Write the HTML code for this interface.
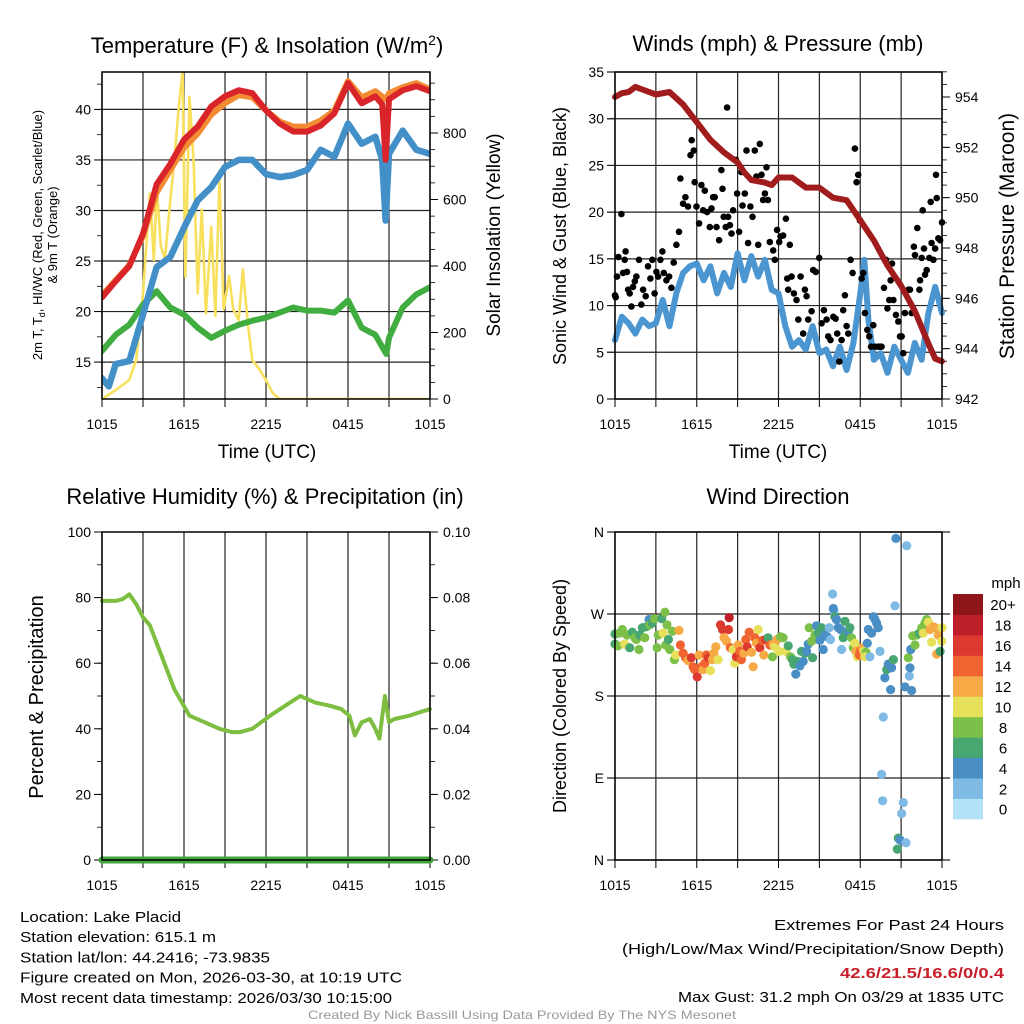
<!DOCTYPE html>
<html><head><meta charset="utf-8"><style>
html,body{margin:0;padding:0;background:#fff;}
svg{display:block;font-family:"Liberation Sans",sans-serif;}
</style></head><body>
<svg id="root" width="1024" height="1024" viewBox="0 0 1024 1024" xmlns="http://www.w3.org/2000/svg"></svg>
<script>
// ---------- Panel 1: temperature & insolation ----------
const tempRedHours = [0,1,2,3,4,5,6,7,8,9,10,11,12,13,14,15,16,17,18,19,20,20.5,20.75,21,22,23,24];
const tempRedVals  = [21.4,23.0,24.5,27.7,32.6,34.6,37.0,38.3,40.3,41.3,41.9,41.6,39.9,38.6,37.8,37.8,38.4,39.6,42.6,40.6,41.3,40.5,35.0,41.0,41.9,42.3,41.8];
const tempOrgHours = [0,1,2,3,4,5,6,7,8,9,10,11,12,13,14,15,16,17,18,19,20,20.75,21,22,23,24];
const tempOrgVals  = [21.6,23.1,24.6,27.5,31.8,34.0,36.2,37.6,39.5,40.6,41.4,41.2,39.9,38.8,38.3,38.3,38.9,39.9,42.8,41.2,41.8,41.0,41.6,42.2,42.6,42.0];
const tempBlueHours = [0,0.5,1,2,3,4,5,6,7,8,9,10,11,12,13,14,15,16,17,18,19,20,20.5,20.75,21,22,23,24];
const tempBlueVals  = [13.4,12.6,14.8,15.1,19.7,24.4,25.4,28.3,31.0,32.3,34.3,35.0,35.0,33.6,33.3,33.5,34.0,36.0,35.3,38.6,36.6,37.3,35.0,29.0,35.6,37.9,36.0,35.6];
const tempGreenHours = [0,1,2,3,4,5,6,7,8,9,10,11,12,13,14,15,16,17,18,19,20,20.8,21,22,23,24];
const tempGreenVals  = [16.1,17.7,18.7,20.7,22.0,20.4,19.7,18.4,17.4,18.1,18.7,19.1,19.4,19.9,20.4,20.1,20.1,19.9,21.1,18.4,17.7,15.8,17.4,20.4,21.7,22.4];
const solarHours = [0,1,2,2.5,3,3.5,3.8,4,4.3,4.6,5,5.3,5.6,5.9,6.1,6.4,6.7,7,7.3,7.6,8,8.3,8.6,8.9,9.3,9.6,10,10.3,10.7,11,11.5,12,12.5,13,24];
const solarVals  = [0,27,57,117,318,618,418,638,460,420,598,720,869,989,368,909,718,318,570,257,518,250,668,270,370,270,237,390,217,117,90,57,17,0,0];
const p1LeftTicks = [15,20,25,30,35,40];
const p1RightTicks = [0,200,400,600,800];
// ---------- Panel 2: winds & pressure ----------
const windHours = [0,0.5,1,1.5,2,2.5,3,3.5,4,4.5,5,5.5,6,6.5,7,7.5,8,8.5,9,9.5,10,10.5,11,11.5,12,12.5,13,13.5,14,14.5,15,15.5,16,16.5,17,17.5,18,18.3,18.6,19,19.5,20,20.5,21,21.5,22,22.5,23,23.5,24];
const windVals  = [6.3,8.8,8.1,7.0,8.5,7.8,8.1,10.6,7.8,11.3,13.5,14.2,14.5,12.7,14.2,11.3,13.5,12.0,15.6,12.7,15.3,13.1,14.9,11.7,11.3,7.8,5.6,6.3,5.3,7.8,4.9,5.3,3.5,5.6,3.1,6.0,11.3,14.9,8.5,4.2,4.9,2.8,5.6,4.2,2.8,6.0,4.2,9.2,12.0,9.2];
const gustHours = [0,0.05,0.15,0.25,0.47,0.59,0.71,0.78,0.88,0.96,1.08,1.2,1.32,1.45,1.57,1.76,1.93,2.06,2.25,2.42,2.6,2.74,2.91,3.04,3.16,3.33,3.48,3.58,3.77,3.97,4.14,4.31,4.51,4.7,4.8,5.0,5.17,5.36,5.54,5.63,5.78,5.85,5.98,6.17,6.34,6.47,6.59,6.76,6.96,7.08,7.2,7.32,7.45,7.64,7.81,7.89,7.98,8.13,8.23,8.3,8.43,8.55,8.67,8.87,8.96,9.11,9.28,9.36,9.53,9.65,9.77,9.94,10.09,10.26,10.38,10.51,10.63,10.75,10.87,11.0,11.12,11.22,11.36,11.61,11.73,11.9,12.05,12.15,12.34,12.54,12.64,12.71,12.83,12.96,13.13,13.32,13.45,13.62,13.81,13.94,14.06,14.18,14.43,14.55,14.74,14.99,15.16,15.33,15.53,15.65,15.82,16.02,16.19,16.31,16.46,16.63,16.75,16.87,17.0,17.12,17.29,17.44,17.61,17.73,17.85,17.98,18.1,18.22,18.34,18.52,18.66,18.79,18.96,19.08,19.32,19.45,19.57,19.74,19.89,19.99,20.13,20.23,20.33,20.43,20.62,20.79,20.92,21.04,21.16,21.28,21.53,21.65,21.77,21.94,22.02,22.19,22.34,22.39,22.51,22.58,22.68,22.75,22.88,23.07,23.17,23.24,23.37,23.49,23.56,23.61,23.73,23.86,24.0];
const gustVals  = [11.1,10.9,13.1,15.2,19.8,13.5,14.9,15.8,13.6,11.7,11.3,9.9,12.0,12.6,13.1,14.9,10.1,11.7,11.0,14.2,12.9,14.9,11.3,13.6,13.1,14.9,15.8,13.5,12.7,13.1,11.9,14.6,16.5,17.9,23.6,20.9,21.6,20.6,26.1,27.7,26.6,23.2,20.6,18.8,22.9,20.2,22.3,20.0,18.4,20.4,21.6,21.6,18.4,17.0,24.5,22.5,19.5,18.4,31.2,19.5,18.6,17.7,20.2,25.6,22.0,17.9,24.3,20.7,22.0,26.6,16.7,20.6,19.5,26.6,23.8,16.5,27.3,24.0,21.3,22.0,24.8,21.3,16.8,15.9,14.9,18.1,16.8,17.4,17.5,19.3,12.9,11.7,16.5,13.1,11.3,10.6,8.5,13.1,7.0,11.7,11.0,8.5,9.4,13.8,13.6,15.1,8.1,9.5,8.5,6.7,6.3,8.8,8.6,7.0,4.0,6.3,9.5,11.1,7.8,7.0,14.9,13.5,26.8,23.2,24.0,19.1,12.9,13.5,9.2,7.4,6.7,5.6,7.9,5.6,5.6,5.6,5.6,11.9,14.9,9.7,10.6,12.7,14.5,10.6,9.0,8.3,6.7,6.7,4.9,9.2,11.7,11.7,9.2,16.3,15.4,18.3,11.7,12.7,15.1,20.2,16.1,13.3,13.8,15.1,21.1,16.7,14.9,16.1,24.0,21.5,17.2,17.0,18.9];
const presHours = [0,0.5,1,1.5,2,3,4,5,6,7,8,9,9.5,10,11,11.5,12,13,14,15,16,17,18,19,20,21,22,23,23.5,24];
const presVals  = [954.0,954.15,954.2,954.4,954.3,954.1,954.2,953.7,953.0,952.3,951.8,951.4,951.0,950.7,950.6,950.5,950.8,950.8,950.4,950.4,950.0,949.9,949.1,948.3,947.3,946.5,945.5,944.2,943.6,943.5];
const p2LeftTicks = [0,5,10,15,20,25,30,35];
const p2RightTicks = [942,944,946,948,950,952,954];
// ---------- Panel 3: RH & precip ----------
const rhHours = [0,1,1.5,2,2.5,3,3.5,4.2,5.3,6.4,7.5,8.6,9.5,10.1,11,12.3,13.4,14.5,15.6,16.7,17.5,18.1,18.5,19.0,19.6,20.0,20.3,20.7,21.0,21.4,22.5,23.2,24];
const rhVals  = [79,79,79.5,81,78,74,71.6,64,52,44,42,40,39,39,40,44,47,50,48,47,46,44,38,42,43,40,37,50,42,43,44,45,46];
const precipHours = [0,24];
const precipVals  = [0,0];
const p3LeftTicks = [0,20,40,60,80,100];
const p3RightTicks = ["0.00","0.02","0.04","0.06","0.08","0.10"];
// ---------- Panel 4: wind direction ----------
const dirHours = [0,0,0.22,0.34,0.54,0.71,0.88,1.08,1.27,1.45,1.57,1.76,1.81,2.01,2.18,2.3,2.5,2.55,2.74,2.91,3.09,3.18,3.43,3.53,3.67,3.72,3.82,3.92,4.02,4.21,4.36,4.46,4.7,4.8,5.0,5.19,5.36,5.61,5.73,5.85,6.03,6.17,6.34,6.47,6.59,6.71,6.86,7.0,7.15,7.25,7.4,7.57,7.74,7.89,8.01,8.18,8.33,8.38,8.47,8.67,8.79,8.91,9.04,9.16,9.28,9.45,9.6,9.7,9.85,10.02,10.14,10.26,10.38,10.51,10.63,10.83,10.92,11.07,11.24,11.36,11.56,11.61,11.73,11.9,12.05,12.15,12.34,12.54,12.71,12.88,13.03,13.13,13.27,13.37,13.57,13.69,13.81,13.94,14.06,14.18,14.25,14.43,14.5,14.67,14.79,14.92,15.04,15.16,15.28,15.41,15.58,15.72,15.82,15.97,16.07,16.02,16.14,16.26,16.39,16.56,16.63,16.75,16.87,17.0,17.12,17.24,17.36,17.49,17.61,17.68,17.78,17.93,18.03,18.17,18.27,18.42,18.34,18.52,18.59,18.71,18.83,18.96,19.08,19.2,19.32,19.45,19.69,19.57,19.64,19.81,19.94,20.06,20.23,20.3,20.43,20.55,20.62,20.79,20.72,20.92,21.04,21.16,21.28,21.36,21.41,21.53,21.6,21.65,21.7,21.77,21.85,22.02,22.14,22.34,22.51,22.63,22.75,22.88,23.0,23.12,23.24,23.37,23.49,23.61,23.73,23.86,23.98,24.0];
const dirDegrees = [248,237,235,249,253,237,247,233,250,244,242,231,247,255,244,256,264,258,260,265,233,247,265,249,272,236,258,242,231,251,220,225,252,236,227,222,219,222,212,209,201,225,212,209,216,225,222,208,220,227,234,220,258,253,244,240,253,266,233,231,216,223,236,229,220,227,242,234,250,228,212,244,238,253,233,241,225,242,244,236,223,237,234,242,229,245,244,229,235,223,220,215,204,218,213,229,218,227,229,237,255,240,222,247,257,249,241,255,231,247,245,255,242,292,273,276,267,264,255,253,231,244,262,249,251,255,244,233,238,229,223,225,230,233,229,228,223,238,253,223,249,267,264,260,255,229,157,94,65,200,209,215,187,211,220,279,353,24,12,22,51,63,190,19,345,222,202,211,231,186,246,236,247,249,255,249,260,264,261,253,239,256,255,226,247,229,240,255];
const dirSpeeds = [6,6,8,8,8,10,8,6,6,8,8,8,6,6,8,6,4,8,6,8,8,8,6,10,8,8,8,6,8,8,8,10,12,14,14,14,12,16,14,14,16,12,14,12,14,14,16,10,12,12,12,10,16,16,12,12,16,18,14,10,10,16,12,14,14,12,14,16,14,12,12,14,12,10,16,14,12,16,6,14,8,12,10,12,10,8,8,10,6,8,6,6,4,6,4,6,4,6,4,4,8,8,6,8,4,6,4,6,4,4,4,2,2,2,2,4,6,4,4,4,2,6,6,6,4,6,8,8,10,12,10,14,14,12,10,8,10,4,4,2,4,4,4,4,4,2,2,2,2,4,6,4,4,4,6,2,4,6,6,4,2,2,4,2,2,8,2,4,4,4,8,8,8,6,8,10,8,8,10,12,10,12,12,12,12,6,10,10];
const cbLabels = ["0","2","4","6","8","10","12","14","16","18","20+"];
const cbColors = ["#b3e2f6","#7ebae3","#4a8ec6","#48a670","#7cc04a","#e6e05a","#f6a945","#ef6430","#dc3a2e","#bd1e27","#8e1619"];
const xTickLabels = ["1015","1615","2215","0415","1015"];

const NS="http://www.w3.org/2000/svg";
const root=document.getElementById('root');
function mk(tag,attrs,parent){const e=document.createElementNS(NS,tag);for(const k in attrs)e.setAttribute(k,attrs[k]);(parent||root).appendChild(e);return e;}
function txt(s,x,y,size,anchor,parent,extra){const e=mk('text',Object.assign({x:x,y:y,'font-size':size,'text-anchor':anchor||'middle',fill:'#000'},extra||{}),parent);e.textContent=s;return e;}
function pathFrom(xs,ys,fx,fy){return xs.map((h,i)=>(i?'L':'M')+fx(h).toFixed(1)+' '+fy(ys[i]).toFixed(1)).join(' ');}

function frame(g,L,R,T,B,xfn){
  for(let h=0;h<=24;h+=3){const v=mk('line',{x1:xfn(h),x2:xfn(h),y1:T,y2:B,stroke:'#222','stroke-width':1.2},g);
    
    
    const tk=mk('line',{x1:xfn(h),x2:xfn(h),y1:B,y2:B+8,stroke:'#000','stroke-width':1},g);
    
    }
  xTickLabels.forEach((s,i)=>{const t=txt(s,xfn(i*6),B+30,14,'middle',g);
    
    });
}
function border(g,L,R,T,B){const r=mk('rect',{x:L,y:T,width:R-L,height:B-T,fill:'none',stroke:'#000','stroke-width':1.5},g);
  
  }
function yTicks(g,ticks,fy,x,side,labels,grid,L,R,minorStep,lo,hi){
  ticks.forEach((v,i)=>{const y=fy(v);
    const tk=mk('line',{x1:x,x2:x+(side<0?-8:8),y1:y,y2:y,stroke:'#000','stroke-width':1},g);
    
    
    if(grid){const gl=mk('line',{x1:L,x2:R,y1:y,y2:y,stroke:'#222','stroke-width':1.2},g);
      
      }
    const t=txt(labels?labels[i]:String(v),x+(side<0?-11:13),y+5,14,side<0?'end':'start',g);
    
    });
  if(minorStep){for(let v=lo;v<=hi+1e-9;v+=minorStep){const y=fy(v);
    const tk=mk('line',{x1:x,x2:x+(side<0?-5:5),y1:y,y2:y,stroke:'#000','stroke-width':0.8},g);
    
    }}
}
function line(g,xs,ys,fx,fy,color,w,name){const p=mk('path',{d:pathFrom(xs,ys,fx,fy),fill:'none',stroke:color,'stroke-width':w,'stroke-linejoin':'round','stroke-linecap':'round'},g);
  
  return p;}

// ===== Panel 1 =====
{const g=mk('g',{});
 const L=102,R=430,T=72,B=399;
 const fx=h=>L+h*(R-L)/24, fy=v=>B-(v-11.35)*(B-T)/(43.7-11.35), fy2=v=>B-v*(66.5/200);
 const cp=mk('clipPath',{id:'c1'},g);mk('rect',{x:L,y:T,width:R-L,height:B-T},cp);
 frame(g,L,R,T,B,fx);
 yTicks(g,p1LeftTicks,fy,L,-1,null,true,L,R,2.5,12.5,42.5);
 yTicks(g,p1RightTicks,fy2,R,1,null,false,0,0,50,0,950);
 const d=mk('g',{'clip-path':'url(#c1)'},g);
 line(d,solarHours,solarVals,fx,fy2,'#f8e05c',2.6,'solar-insolation-line');
 line(d,tempGreenHours,tempGreenVals,fx,fy,'#41ac3f',6,'dewpoint-line');
 line(d,tempBlueHours,tempBlueVals,fx,fy,'#438fc8',6.5,'wind-chill-line');
 line(d,tempOrgHours,tempOrgVals,fx,fy,'#f28b31',6,'temp-9m-line');
 line(d,tempRedHours,tempRedVals,fx,fy,'#d9242a',6,'temp-2m-line');
 border(g,L,R,T,B);
 const t=mk('text',{x:267,y:53,'font-size':22,'text-anchor':'middle'},g);t.innerHTML='Temperature (F) &amp; Insolation (W/m<tspan dy="-8" font-size="14">2</tspan><tspan dy="8">)</tspan>';
 
 const a=txt('Time (UTC)',267,458,19,'middle',g);
 const y1=mk('text',{transform:'translate(42,235) rotate(-90)','font-size':13,'text-anchor':'middle'},g);y1.innerHTML='2m T, T<tspan font-size="9" dy="3">d</tspan><tspan dy="-3">, HI/WC (Red, Green, Scarlet/Blue)</tspan>';
 
 const y1b=txt('& 9m T (Orange)',0,0,13,'middle',g,{transform:'translate(57,235) rotate(-90)'});
 const y2=txt('Solar Insolation (Yellow)',0,0,19,'middle',g,{transform:'translate(500,235) rotate(-90)'});
}
// ===== Panel 2 =====
{const g=mk('g',{});
 const L=615,R=942,T=72,B=399;
 const fx=h=>L+h*(R-L)/24, fy=v=>B-v*(B-T)/35, fy2=v=>B-(v-942)*(302/12);
 const cp=mk('clipPath',{id:'c2'},g);mk('rect',{x:L-4,y:T,width:R-L+8,height:B-T},cp);
 frame(g,L,R,T,B,fx);
 yTicks(g,p2LeftTicks,fy,L,-1,null,true,L-8,R,0,0,0);
 yTicks(g,p2RightTicks,fy2,R,1,null,false,0,0,0.5,942,955);
 const d=mk('g',{'clip-path':'url(#c2)'},g);
 line(d,windHours,windVals,fx,fy,'#4b95d0',6,'sonic-wind-line');
 gustHours.forEach((h,i)=>{const c=mk('circle',{cx:fx(h).toFixed(1),cy:fy(gustVals[i]).toFixed(1),r:3.3,fill:'#000'},d);
   
   });
 line(d,presHours,presVals,fx,fy2,'#a11c1c',6,'station-pressure-line');
 border(g,L,R,T,B);
 const t=txt('Winds (mph) & Pressure (mb)',778,51,22,'middle',g);
 const a=txt('Time (UTC)',778,458,19,'middle',g);
 const y1=txt('Sonic Wind & Gust (Blue, Black)',0,0,18,'middle',g,{transform:'translate(566,236) rotate(-90)'});
 const y2=txt('Station Pressure (Maroon)',0,0,21,'middle',g,{transform:'translate(1014,236) rotate(-90)'});
}
// ===== Panel 3 =====
{const g=mk('g',{});
 const L=102,R=430,T=532,B=860;
 const fx=h=>L+h*(R-L)/24, fy=v=>B-v*(B-T)/100, fyp=v=>B-v*(B-T)/0.1;
 frame(g,L,R,T,B,fx);
 yTicks(g,p3LeftTicks,fy,L,-1,null,false,0,0,10,0,100);
 yTicks(g,p3RightTicks.map(Number),fyp,R,1,p3RightTicks,false,0,0,0.01,0,0.1);
 line(g,rhHours,rhVals,fx,fy,'#7dbd40',4,'relative-humidity-line');
 line(g,precipHours,precipVals,fx,fyp,'#3fa43a',7,'precipitation-line');
 border(g,L,R,T,B);
 const t=txt('Relative Humidity (%) & Precipitation (in)',265,504,22,'middle',g);
 const y1=txt('Percent & Precipitation',0,0,20,'middle',g,{transform:'translate(43,697) rotate(-90)'});
}
// ===== Panel 4 =====
{const g=mk('g',{});
 const L=615,R=942,T=532,B=860;
 const fx=h=>L+h*(R-L)/24, fy=v=>B-v*(B-T)/360;
 frame(g,L,R,T,B,fx);
 yTicks(g,[0,90,180,270,360],fy,L,-1,["N","E","S","W","N"],true,L-8,R+8,0,0,0);
 const cb=(v)=>cbColors[Math.min(10,Math.max(0,Math.floor(v/2)))];
 dirHours.forEach((h,i)=>{const c=mk('circle',{cx:fx(h).toFixed(1),cy:fy(dirDegrees[i]).toFixed(1),r:4.6,fill:cb(dirSpeeds[i])},g);
   
   });
 border(g,L,R,T,B);
 const t=txt('Wind Direction',778,504,22,'middle',g);
 const y1=txt('Direction (Colored By Speed)',0,0,18,'middle',g,{transform:'translate(566,696) rotate(-90)'});
 const lg=mk('g',{},g);
 const top=594,bh=20.45;
 cbColors.forEach((c,i)=>{const y=top+(10-i)*bh;
   const r=mk('rect',{x:953,y:y.toFixed(1),width:30,height:(bh+0.5).toFixed(1),fill:c},lg);
   
   
   const t2=txt(cbLabels[i],1003,y+bh/2+6,15,'middle',lg);
   
   });
 const u=txt('mph',1006,588,15,'middle',lg);
}
// ===== Footer =====
{const g=mk('g',{});
 const left=[["Location: Lake Placid",161],["Station elevation: 615.1 m",196],["Station lat/lon: 44.2416; -73.9835",250],["Figure created on Mon, 2026-03-30, at 10:19 UTC",382],["Most recent data timestamp: 2026/03/30 10:15:00",372]];
 left.forEach((l,i)=>{const t=txt(l[0],20,922+i*20.2,15,'start',g,{textLength:l[1],lengthAdjust:'spacingAndGlyphs'});
   });
 const right=[["Extremes For Past 24 Hours",930,230,'#000','normal'],["(High/Low/Max Wind/Precipitation/Snow Depth)",954,382,'#000','normal'],["42.6/21.5/16.6/0/0.4",978,164,'#c8202a','bold'],["Max Gust: 31.2 mph On 03/29 at 1835 UTC",1002,326,'#000','normal']];
 right.forEach(l=>{const t=txt(l[0],1004,l[1],15,'end',g,{textLength:l[2],lengthAdjust:'spacingAndGlyphs',fill:l[3],'font-weight':l[4]});
   });
 const c=txt('Created By Nick Bassill Using Data Provided By The NYS Mesonet',522,1019,12,'middle',g,{fill:'#999',textLength:428,lengthAdjust:'spacingAndGlyphs'});
 
}
</script>
</body></html>
